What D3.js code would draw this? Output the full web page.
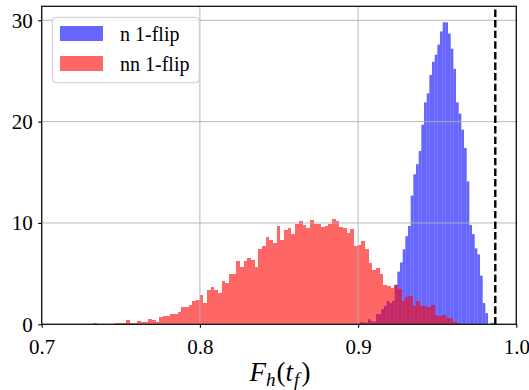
<!DOCTYPE html>
<html>
<head>
<meta charset="utf-8">
<script src="https://cdn.jsdelivr.net/npm/d3@7"></script>
<style>
  html, body { margin: 0; padding: 0; background: #fff; }
  svg { display: block; }
  svg text { font-family: 'Liberation Serif', serif; }
</style>
</head>
<body>
<svg id="chart" width="529" height="390"></svg>
<script>
// Histogram densities (bins of equal width starting at the given left edge)
const nnStart = 0.73262;
const nnWidth = 0.00232;
const nnDensity = [
  0.13, 0.07, 0, 0, 0.05, 0, 0.13, 0.13, 0.13, 0.43,
  0.1, 0.13, 0.33, 0.23, 0.23, 0.53, 0.43, 0.23, 0.72, 0.82,
  0.82, 1.02, 1.02, 1.22, 1.71, 1.71, 1.9, 2.3, 2.43, 2.9,
  2.1, 3.39, 3.68, 3.39, 3.09, 4.28, 4.08, 4.97, 4.97, 6.25,
  5.66, 6.25, 6.55, 6.35, 5.66, 7.43, 7.73, 8.62, 8.32, 8.03,
  9.7, 8.32, 9.31, 9.5, 8.9, 9.9, 10.2, 9.8, 9.5, 10.3,
  9.9, 9.9, 9.6, 9.7, 9.9, 10.4, 10.2, 9.6, 9.5, 9.0,
  9.4, 7.73, 7.83, 8.2, 7.4, 6.0, 5.35, 5.56, 5.0, 3.88,
  3.75, 3.55, 3.88, 3.45, 2.33, 2.73, 2.79, 1.8, 2.33, 1.8,
  1.8, 1.74, 1.87, 0.92, 0.82, 0.92, 0.66, 0.66, 0.23, 0.13
];

const nStart = 0.899516;
const nWidth = 0.001686;
const nDensity = [
  0.05, 0.2, 0.2, 0.15, 0.5, 0.3, 0.25, 1.0, 1.0, 1.5,
  1.8, 2.3, 2.1, 2.3, 3.9, 5.2, 6.1, 7.4, 8.7, 9.7,
  12.7, 14.8, 15.8, 17.1, 19.7, 21.9, 22.8, 24.6, 25.9, 26.6,
  27.6, 28.9, 29.8, 29.8, 28.7, 27.2, 25.2, 21.9, 20.8, 19.2,
  17.4, 14.1, 9.8, 8.9, 7.5, 6.9, 4.8, 2.1, 1.1, 0, 0.16
];

const seriesNames = ["n 1-flip", "nn 1-flip"];
const seriesColors = ["#0000ff", "#ff0000"];
const xTicks = [0.7, 0.8, 0.9, 1.0];
const xTickLabels = ["0.7", "0.8", "0.9", "1.0"];
const yTicks = [0, 10, 20, 30];
const yTickLabels = ["0", "10", "20", "30"];
const refLine = 0.98672;

const W = 529, H = 390;
const margin = { left: 41.7, right: 12.7, top: 6.3, bottom: 65.7 };
const FONT = "'Liberation Serif', serif";

const svg = d3.select("#chart");
const x = d3.scaleLinear().domain([0.7, 1.0]).range([margin.left, W - margin.right]);
const y = d3.scaleLinear().domain([0, 31.38]).range([H - margin.bottom, margin.top]);

function toBins(start, width, values) {
  return values.map((v, i) => ({ x0: start + i * width, x1: start + (i + 1) * width, v }));
}

const histograms = [
  toBins(nStart, nWidth, nDensity),
  toBins(nnStart, nnWidth, nnDensity)
];

// bars: blue first, red drawn over it
histograms.forEach((bins, s) => {
  svg.append("g")
    .attr("shape-rendering", s === 1 ? "crispEdges" : "auto")
    .selectAll("rect")
    .data(bins)
    .join("rect")
    .attr("x", d => x(d.x0))
    .attr("width", d => x(d.x1) - x(d.x0))
    .attr("y", d => y(d.v))
    .attr("height", d => y(0) - y(d.v))
    .attr("fill", seriesColors[s])
    .attr("fill-opacity", 0.6);
});

// grid above the bars
const grid = svg.append("g").attr("stroke", "#b0b0b0").attr("stroke-width", 0.9);
grid.selectAll("line.v").data(xTicks).join("line")
  .attr("x1", d => x(d)).attr("x2", d => x(d))
  .attr("y1", y.range()[0]).attr("y2", y.range()[1]);
grid.selectAll("line.h").data(yTicks).join("line")
  .attr("y1", d => y(d)).attr("y2", d => y(d))
  .attr("x1", x.range()[0]).attr("x2", x.range()[1]);

// reference line
svg.append("line")
  .attr("x1", x(refLine)).attr("x2", x(refLine))
  .attr("y1", y.range()[0]).attr("y2", y.range()[1])
  .attr("stroke", "#000").attr("stroke-width", 2.4)
  .attr("stroke-dasharray", "7.4,3.2");

// axes
const xAxis = d3.axisBottom(x).tickValues(xTicks).tickFormat((d, i) => xTickLabels[i])
  .tickSize(3.5).tickPadding(11.5);
const yAxis = d3.axisLeft(y).tickValues(yTicks).tickFormat((d, i) => yTickLabels[i])
  .tickSize(3.5).tickPadding(5.5);

const gx = svg.append("g").attr("transform", `translate(0,${y(0)})`).call(xAxis);
const gy = svg.append("g").attr("transform", `translate(${x(0.7)},0)`).call(yAxis);
[gx, gy].forEach(g => {
  g.attr("font-family", null).attr("font-size", null);
  g.select(".domain").remove();
  g.selectAll(".tick line").attr("stroke", "#000").attr("stroke-width", 1.1);
  g.selectAll(".tick text")
    .style("font-family", FONT).style("font-size", "21px").attr("fill", "#000");
});

// frame
svg.append("rect")
  .attr("x", x.range()[0]).attr("y", y.range()[1])
  .attr("width", x.range()[1] - x.range()[0])
  .attr("height", y.range()[0] - y.range()[1])
  .attr("fill", "none").attr("stroke", "#111").attr("stroke-width", 1.3);

// x label: F_h(t_f)
const xl = svg.append("text")
  .attr("x", (x.range()[0] + x.range()[1]) / 2 + 1)
  .attr("y", 381)
  .attr("text-anchor", "middle")
  .style("font-family", FONT)
  .style("font-size", "27px")
  .attr("fill", "#000");
xl.append("tspan").attr("font-style", "italic").text("F");
xl.append("tspan").attr("font-style", "italic").style("font-size", "19px").attr("dy", 5).text("h");
xl.append("tspan").attr("dy", -5).attr("dx", 1).text("(");
xl.append("tspan").attr("font-style", "italic").text("t");
xl.append("tspan").attr("font-style", "italic").style("font-size", "19px").attr("dy", 5).attr("dx", 1).text("f");
xl.append("tspan").attr("dy", -5).attr("dx", 2).text(")");

// legend
const lg = svg.append("g");
lg.append("rect")
  .attr("x", 52.3).attr("y", 17.3).attr("width", 147).attr("height", 65.4)
  .attr("rx", 4).attr("fill", "#fff").attr("fill-opacity", 0.8)
  .attr("stroke", "#cccccc").attr("stroke-width", 1);
seriesNames.forEach((name, i) => {
  const top = 26 + i * 30;
  lg.append("rect")
    .attr("x", 60).attr("y", top).attr("width", 43).attr("height", 15)
    .attr("fill", seriesColors[i]).attr("fill-opacity", 0.6);
  lg.append("text")
    .attr("x", 120).attr("y", top + 14.7)
    .style("font-family", FONT).style("font-size", "20px").attr("fill", "#000")
    .text(name);
});
</script>
</body>
</html>
